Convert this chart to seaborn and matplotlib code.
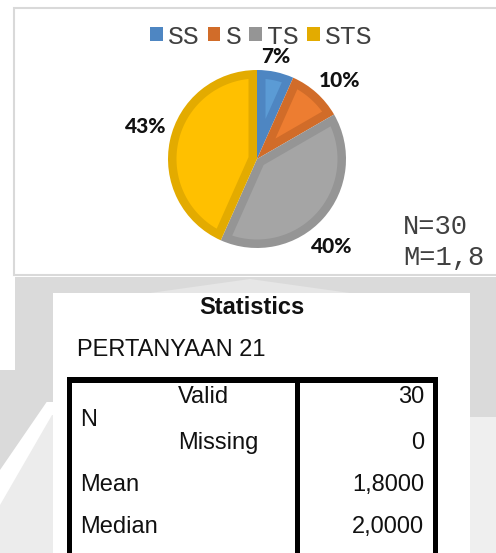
import numpy as np
import matplotlib
matplotlib.use("Agg")
import matplotlib.pyplot as plt
from matplotlib.patches import Rectangle, Polygon, Patch
import seaborn as sns

# data
categories = ["SS", "S", "TS", "STS"]
counts = [2, 3, 12, 13]
n_total = 30
mean_text = "1,8"

stat_title = "Statistics"
stat_var = "PERTANYAAN 21"
stat_rows = ["Mean", "Median"]
stat_values = ["1,8000", "2,0000"]
n_valid = "30"
n_missing = "0"

sns.set_theme(style="white")
plt.rcParams["font.family"] = ["Liberation Sans", "DejaVu Sans"]

fill_cols = sns.color_palette(["#5B9BD5", "#ED7D31", "#A5A5A5", "#FFC000"])
edge_cols = sns.color_palette(["#4E86C2", "#D16C29", "#959595", "#E3AB00"])


def inset_wedge(t1, t2, r, d):
    # inner (lighter) part of a wedge, pulled in by d from every edge
    a1, a2 = np.deg2rad(t1), np.deg2rad(t2)
    half = (a2 - a1) / 2
    mid = (a1 + a2) / 2
    apex = d / np.sin(half) * np.array([np.cos(mid), np.sin(mid)])
    rho = r - d
    phi = np.arctan2(d, np.sqrt(rho ** 2 - d ** 2))
    arc = np.linspace(a1 + phi, a2 - phi, 80)
    pts = [apex] + [rho * np.array([np.cos(a), np.sin(a)]) for a in arc]
    return np.array(pts)


fig = plt.figure(figsize=(4.96, 5.53), dpi=100)
fig.patch.set_facecolor("white")

# background layer in pixel coordinates
bg = fig.add_axes([0, 0, 1, 1])
bg.set_xlim(0, 496)
bg.set_ylim(553, 0)
bg.axis("off")

# grey page frame / faint watermark (rough)
grey = "#dadada"
bg.add_patch(Rectangle((15, 277), 455, 125, color=grey, lw=0))
bg.add_patch(Rectangle((470, 277), 26, 140, color=grey, lw=0))
bg.add_patch(Polygon([(0, 370), (15, 370), (48, 400), (0, 470)],
                     closed=True, color=grey, lw=0))
bg.add_patch(Polygon([(0, 505), (52, 415), (66, 415), (66, 553), (0, 553)],
                     closed=True, color="#ececec", lw=0))
bg.add_patch(Polygon([(440, 445), (470, 417), (496, 417), (496, 553), (448, 553)],
                     closed=True, color="#efefef", lw=0))
bg.add_patch(Rectangle((53, 293), 417, 260, color="white", lw=0))
bg.add_patch(Polygon([(150, 293), (250, 279), (350, 293)], closed=True,
                     color="#e6e6e6", lw=0))

# top chart box
bg.add_patch(Rectangle((14, 8), 490, 267, facecolor="white",
                       edgecolor="#d9d9d9", lw=1.5))

# pie
R = 0.89
ax = fig.add_axes([157 / 496, 1 - 259 / 553, 200 / 496, 200 / 553])
wedges, _ = ax.pie(counts, colors=edge_cols, startangle=90, counterclock=False,
                   radius=R, wedgeprops={"linewidth": 0})
for w, fc in zip(wedges, fill_cols):
    ax.add_patch(Polygon(inset_wedge(w.theta1, w.theta2, R, 0.085),
                         closed=True, facecolor=fc, lw=0))
ax.set_xlim(-1, 1)
ax.set_ylim(-1, 1)
ax.set_aspect("auto")
ax.axis("off")

label_dist = [1.19, 1.30, 1.28, 1.31]
label_nudge = [1.6, -3.6, -6.8, -5.3]
for i, w in enumerate(wedges):
    th = np.deg2rad((w.theta1 + w.theta2) / 2 + label_nudge[i])
    r = R * label_dist[i]
    pct = round(counts[i] / n_total * 100)
    ax.text(r * np.cos(th), r * np.sin(th) - 0.02, f"{pct}%", ha="center",
            va="center", fontsize=15, fontweight="black",
            family=["Lato", "DejaVu Sans"], color="#111111", clip_on=False)

handles = [Patch(facecolor=c, edgecolor="none") for c in edge_cols]
leg = fig.legend(handles, categories, ncol=4, loc="center left",
                 bbox_to_anchor=(150, 36.5), bbox_transform=bg.transData,
                 frameon=False, borderpad=0, borderaxespad=0,
                 handlelength=0.48, handleheight=0.48, handletextpad=0.2,
                 columnspacing=0.3,
                 prop={"family": "Liberation Mono", "size": 19})
for t in leg.get_texts():
    t.set_color("#404040")

mono = {"family": "Liberation Mono", "size": 19.5, "color": "#404040"}
bg.text(403, 227, f"N={n_total}", ha="left", va="center", **mono)
bg.text(403, 258, f"M={mean_text}", ha="left", va="center", **mono)

# statistics table
bg.text(252, 308, stat_title, ha="center", va="center", fontsize=17,
        fontweight="bold", color="#111111")
bg.text(77, 350, stat_var, ha="left", va="center", fontsize=17, color="#111111")

for x, y, w, h in [(67, 377, 371, 6), (67, 377, 5, 176), (295, 377, 5, 176),
                   (433, 377, 5, 176)]:
    bg.add_patch(Rectangle((x, y), w, h, color="black", lw=0))

txt = {"fontsize": 17, "color": "#111111", "va": "center"}
bg.text(178, 397, "Valid", ha="left", **txt)
bg.text(80, 420, "N", ha="left", **txt)
bg.text(178, 443, "Missing", ha="left", **txt)
bg.text(424, 397, n_valid, ha="right", **txt)
bg.text(424, 443, n_missing, ha="right", **txt)
for y, lab, val in zip([485, 527], stat_rows, stat_values):
    bg.text(80, y, lab, ha="left", **txt)
    bg.text(424, y, val, ha="right", **txt)

fig.savefig("out.png", dpi=100)
